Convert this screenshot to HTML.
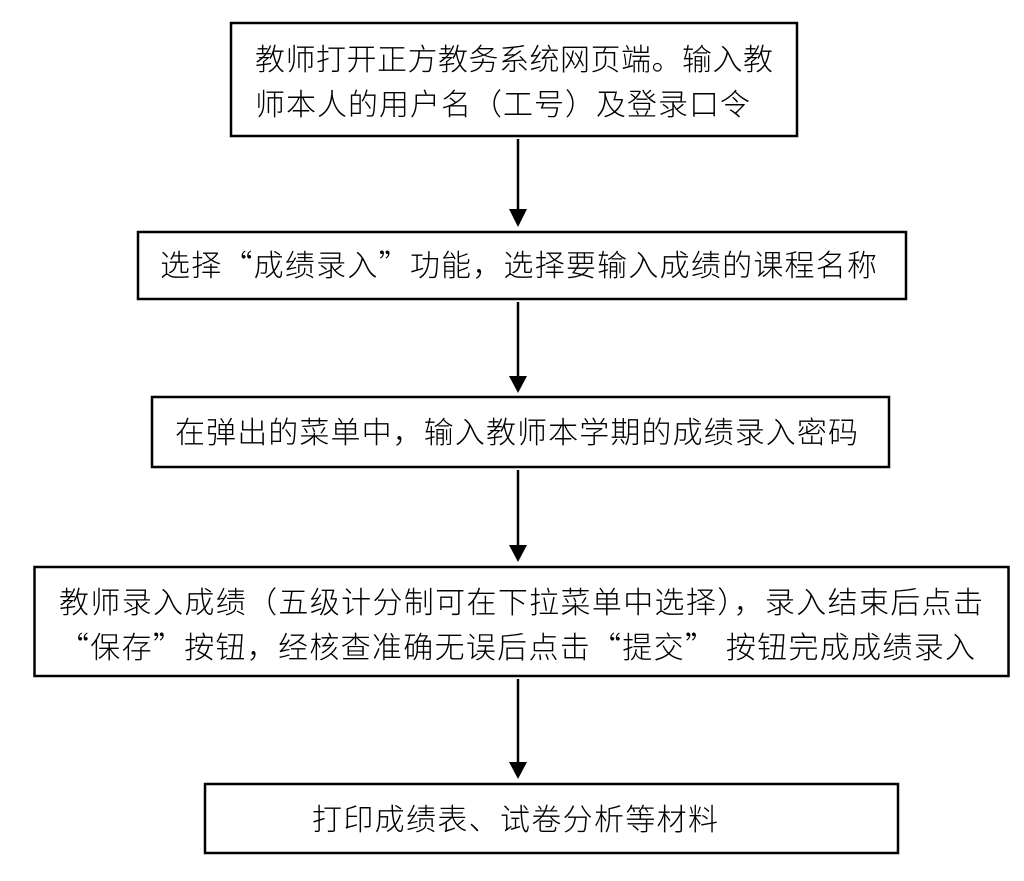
<!DOCTYPE html>
<html>
<head>
<meta charset="utf-8">
<style>
  html, body { margin: 0; padding: 0; background: #fff; }
  svg { display: block; }
  text { font-family: "Liberation Sans", "Noto Sans CJK SC", sans-serif; font-size: 30px; font-weight: 300; fill: #000; }
  .q { font-family: "Noto Sans CJK SC", sans-serif; }
</style>
</head>
<body>
<svg width="1024" height="881" viewBox="0 0 1024 881" xmlns="http://www.w3.org/2000/svg">
  <rect x="0" y="0" width="1024" height="881" fill="#fff"/>
  <g fill="none" stroke="#000" stroke-width="2.5">
    <rect x="231" y="23" width="566" height="113"/>
    <rect x="138" y="232" width="768" height="67"/>
    <rect x="152" y="397" width="737" height="70"/>
    <rect x="34.5" y="567" width="974" height="109"/>
    <rect x="205" y="784" width="693" height="69"/>
  </g>
  <g stroke="#000" stroke-width="2.5">
    <line x1="518" y1="139" x2="518" y2="212"/>
    <line x1="518" y1="302" x2="518" y2="380"/>
    <line x1="518" y1="470" x2="518" y2="548"/>
    <line x1="518" y1="679" x2="518" y2="765"/>
  </g>
  <g fill="#000">
    <polygon points="509,209 527,209 518,227"/>
    <polygon points="509,376 527,376 518,393"/>
    <polygon points="509,545 527,545 518,562"/>
    <polygon points="509,762 527,762 518,779"/>
  </g>

  <text x="255" y="70" textLength="518" lengthAdjust="spacing">教师打开正方教务系统网页端。输入教</text>
  <text x="255" y="115" textLength="495" lengthAdjust="spacing">师本人的用户名（工号）及登录口令</text>

  <text x="160" y="276" textLength="717" lengthAdjust="spacing">选择<tspan class="q">“</tspan>成绩录入<tspan class="q">”</tspan>功能，选择要输入成绩的课程名称</text>

  <text x="175" y="443" textLength="683" lengthAdjust="spacing">在弹出的菜单中，输入教师本学期的成绩录入密码</text>

  <text x="59" y="613" textLength="924" lengthAdjust="spacing">教师录入成绩（五级计分制可在下拉菜单中选择），录入结束后点击</text>
  <text x="59" y="658" textLength="916" lengthAdjust="spacing"><tspan class="q">“</tspan>保存<tspan class="q">”</tspan>按钮，经核查准确无误后点击<tspan class="q">“</tspan>提交<tspan class="q">”</tspan> 按钮完成成绩录入</text>

  <text x="312" y="830" textLength="406" lengthAdjust="spacing">打印成绩表、试卷分析等材料</text>
</svg>
</body>
</html>
